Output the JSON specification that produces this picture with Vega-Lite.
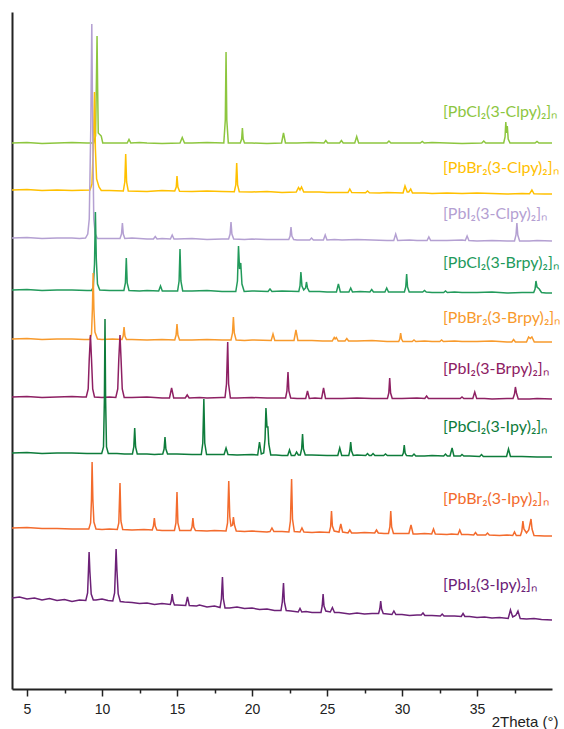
{
"$schema": "https://vega.github.io/schema/vega-lite/v6.json",
"width": 540, "height": 677,
"autosize": {"type": "none"},
"padding": {"left": 12, "top": 12, "right": 12, "bottom": 40},
"background": "white",
"config": {"view": {"stroke": null}, "axis": {"grid": false}},
"datasets": {
"labels": [
{"s":"Cl-Clpy","t":32.73,"i":577,"label":"[PbCl₂(3-Clpy)₂]ₙ"},
{"s":"Br-Clpy","t":32.73,"i":521,"label":"[PbBr₂(3-Clpy)₂]ₙ"},
{"s":"I-Clpy","t":32.73,"i":475,"label":"[PbI₂(3-Clpy)₂]ₙ"},
{"s":"Cl-Brpy","t":32.73,"i":426,"label":"[PbCl₂(3-Brpy)₂]ₙ"},
{"s":"Br-Brpy","t":32.73,"i":371,"label":"[PbBr₂(3-Brpy)₂]ₙ"},
{"s":"I-Brpy","t":32.73,"i":320,"label":"[PbI₂(3-Brpy)₂]ₙ"},
{"s":"Cl-Ipy","t":32.73,"i":262,"label":"[PbCl₂(3-Ipy)₂]ₙ"},
{"s":"Br-Ipy","t":32.73,"i":190,"label":"[PbBr₂(3-Ipy)₂]ₙ"},
{"s":"I-Ipy","t":32.73,"i":104,"label":"[PbI₂(3-Ipy)₂]ₙ"}
],
"xrd": [
{"s":"Cl-Clpy","t":4,"i":546},{"s":"Cl-Clpy","t":5,"i":546.5},{"s":"Cl-Clpy","t":6,"i":545.5},{"s":"Cl-Clpy","t":7,"i":546},{"s":"Cl-Clpy","t":8,"i":546.5},{"s":"Cl-Clpy","t":9,"i":546},{"s":"Cl-Clpy","t":9.45,"i":546},{"s":"Cl-Clpy","t":9.57,"i":553},{"s":"Cl-Clpy","t":9.62,"i":600},{"s":"Cl-Clpy","t":9.67,"i":653},{"s":"Cl-Clpy","t":9.71,"i":600},{"s":"Cl-Clpy","t":9.75,"i":556},{"s":"Cl-Clpy","t":9.95,"i":553},{"s":"Cl-Clpy","t":10.05,"i":546},{"s":"Cl-Clpy","t":10.5,"i":546},{"s":"Cl-Clpy","t":11,"i":546},{"s":"Cl-Clpy","t":11.68,"i":546},{"s":"Cl-Clpy","t":11.8,"i":549.5},{"s":"Cl-Clpy","t":11.92,"i":546},{"s":"Cl-Clpy","t":12.5,"i":546.5},{"s":"Cl-Clpy","t":13,"i":546},{"s":"Cl-Clpy","t":14,"i":545.5},{"s":"Cl-Clpy","t":15.2,"i":546},{"s":"Cl-Clpy","t":15.35,"i":551.5},{"s":"Cl-Clpy","t":15.5,"i":546},{"s":"Cl-Clpy","t":16,"i":546},{"s":"Cl-Clpy","t":17,"i":546.5},{"s":"Cl-Clpy","t":18.12,"i":546},{"s":"Cl-Clpy","t":18.22,"i":569},{"s":"Cl-Clpy","t":18.27,"i":637},{"s":"Cl-Clpy","t":18.32,"i":569},{"s":"Cl-Clpy","t":18.42,"i":546},{"s":"Cl-Clpy","t":19.22,"i":546},{"s":"Cl-Clpy","t":19.31,"i":550},{"s":"Cl-Clpy","t":19.36,"i":561},{"s":"Cl-Clpy","t":19.41,"i":550},{"s":"Cl-Clpy","t":19.5,"i":546},{"s":"Cl-Clpy","t":20,"i":546},{"s":"Cl-Clpy","t":21,"i":545.5},{"s":"Cl-Clpy","t":21.97,"i":546},{"s":"Cl-Clpy","t":22.1,"i":556},{"s":"Cl-Clpy","t":22.23,"i":546},{"s":"Cl-Clpy","t":23,"i":546},{"s":"Cl-Clpy","t":24,"i":546.5},{"s":"Cl-Clpy","t":24.8,"i":546},{"s":"Cl-Clpy","t":24.92,"i":548.5},{"s":"Cl-Clpy","t":25.04,"i":546},{"s":"Cl-Clpy","t":25.84,"i":546},{"s":"Cl-Clpy","t":25.96,"i":548.5},{"s":"Cl-Clpy","t":26.08,"i":546},{"s":"Cl-Clpy","t":26.85,"i":546},{"s":"Cl-Clpy","t":26.98,"i":552.5},{"s":"Cl-Clpy","t":27.11,"i":546},{"s":"Cl-Clpy","t":28,"i":546},{"s":"Cl-Clpy","t":29,"i":546},{"s":"Cl-Clpy","t":29.13,"i":548},{"s":"Cl-Clpy","t":29.26,"i":546},{"s":"Cl-Clpy","t":30,"i":546},{"s":"Cl-Clpy","t":31.22,"i":546},{"s":"Cl-Clpy","t":31.35,"i":547.5},{"s":"Cl-Clpy","t":31.48,"i":546},{"s":"Cl-Clpy","t":32,"i":546.5},{"s":"Cl-Clpy","t":33,"i":546},{"s":"Cl-Clpy","t":34,"i":545.5},{"s":"Cl-Clpy","t":35.32,"i":546},{"s":"Cl-Clpy","t":35.45,"i":548},{"s":"Cl-Clpy","t":35.58,"i":546},{"s":"Cl-Clpy","t":36,"i":546},{"s":"Cl-Clpy","t":36.78,"i":546},{"s":"Cl-Clpy","t":36.87,"i":552},{"s":"Cl-Clpy","t":36.92,"i":567},{"s":"Cl-Clpy","t":36.97,"i":556},{"s":"Cl-Clpy","t":37.02,"i":563},{"s":"Cl-Clpy","t":37.08,"i":550},{"s":"Cl-Clpy","t":37.2,"i":546},{"s":"Cl-Clpy","t":38,"i":546},{"s":"Cl-Clpy","t":38.87,"i":546},{"s":"Cl-Clpy","t":39,"i":547.5},{"s":"Cl-Clpy","t":39.13,"i":546},{"s":"Cl-Clpy","t":40,"i":546},

{"s":"Br-Clpy","t":4,"i":499},{"s":"Br-Clpy","t":5,"i":499.5},{"s":"Br-Clpy","t":6,"i":498.5},{"s":"Br-Clpy","t":7,"i":499},{"s":"Br-Clpy","t":8,"i":498.5},{"s":"Br-Clpy","t":9.2,"i":499},{"s":"Br-Clpy","t":9.33,"i":505},{"s":"Br-Clpy","t":9.42,"i":540},{"s":"Br-Clpy","t":9.5,"i":597},{"s":"Br-Clpy","t":9.56,"i":540},{"s":"Br-Clpy","t":9.64,"i":510},{"s":"Br-Clpy","t":9.8,"i":502},{"s":"Br-Clpy","t":9.95,"i":498.5},{"s":"Br-Clpy","t":10.5,"i":498.5},{"s":"Br-Clpy","t":11.42,"i":498},{"s":"Br-Clpy","t":11.52,"i":507},{"s":"Br-Clpy","t":11.58,"i":535},{"s":"Br-Clpy","t":11.64,"i":507},{"s":"Br-Clpy","t":11.75,"i":498},{"s":"Br-Clpy","t":13,"i":497.5},{"s":"Br-Clpy","t":14,"i":498.5},{"s":"Br-Clpy","t":14.85,"i":498},{"s":"Br-Clpy","t":14.95,"i":502},{"s":"Br-Clpy","t":15,"i":513},{"s":"Br-Clpy","t":15.06,"i":502},{"s":"Br-Clpy","t":15.17,"i":497.8},{"s":"Br-Clpy","t":16,"i":497.5},{"s":"Br-Clpy","t":17,"i":498},{"s":"Br-Clpy","t":18,"i":497.5},{"s":"Br-Clpy","t":18.82,"i":497.3},{"s":"Br-Clpy","t":18.92,"i":504},{"s":"Br-Clpy","t":18.98,"i":526},{"s":"Br-Clpy","t":19.04,"i":504},{"s":"Br-Clpy","t":19.15,"i":497.3},{"s":"Br-Clpy","t":20,"i":497},{"s":"Br-Clpy","t":21,"i":497.5},{"s":"Br-Clpy","t":22,"i":496.5},{"s":"Br-Clpy","t":22.95,"i":497},{"s":"Br-Clpy","t":23.1,"i":501.5},{"s":"Br-Clpy","t":23.2,"i":499},{"s":"Br-Clpy","t":23.3,"i":502},{"s":"Br-Clpy","t":23.45,"i":496.9},{"s":"Br-Clpy","t":24.5,"i":497},{"s":"Br-Clpy","t":25,"i":496.5},{"s":"Br-Clpy","t":26.4,"i":496.5},{"s":"Br-Clpy","t":26.52,"i":500},{"s":"Br-Clpy","t":26.65,"i":496.5},{"s":"Br-Clpy","t":27.57,"i":496.3},{"s":"Br-Clpy","t":27.7,"i":498},{"s":"Br-Clpy","t":27.83,"i":496.3},{"s":"Br-Clpy","t":28.5,"i":496},{"s":"Br-Clpy","t":29,"i":496.5},{"s":"Br-Clpy","t":30.07,"i":496},{"s":"Br-Clpy","t":30.2,"i":503},{"s":"Br-Clpy","t":30.35,"i":497},{"s":"Br-Clpy","t":30.45,"i":497},{"s":"Br-Clpy","t":30.58,"i":500},{"s":"Br-Clpy","t":30.7,"i":496},{"s":"Br-Clpy","t":31.5,"i":496},{"s":"Br-Clpy","t":32,"i":495.5},{"s":"Br-Clpy","t":33,"i":496},{"s":"Br-Clpy","t":34,"i":495.5},{"s":"Br-Clpy","t":35,"i":496},{"s":"Br-Clpy","t":36,"i":495.5},{"s":"Br-Clpy","t":37,"i":495},{"s":"Br-Clpy","t":38,"i":495.5},{"s":"Br-Clpy","t":38.5,"i":495.2},{"s":"Br-Clpy","t":38.66,"i":499},{"s":"Br-Clpy","t":38.8,"i":495.2},{"s":"Br-Clpy","t":39.5,"i":495},{"s":"Br-Clpy","t":40,"i":495},

{"s":"I-Clpy","t":4,"i":451},{"s":"I-Clpy","t":5,"i":451.5},{"s":"I-Clpy","t":6,"i":450.5},{"s":"I-Clpy","t":7,"i":451},{"s":"I-Clpy","t":8,"i":451},{"s":"I-Clpy","t":8.5,"i":450.5},{"s":"I-Clpy","t":8.9,"i":451},{"s":"I-Clpy","t":9.05,"i":455},{"s":"I-Clpy","t":9.15,"i":470},{"s":"I-Clpy","t":9.25,"i":560},{"s":"I-Clpy","t":9.32,"i":665},{"s":"I-Clpy","t":9.38,"i":560},{"s":"I-Clpy","t":9.45,"i":470},{"s":"I-Clpy","t":9.55,"i":455},{"s":"I-Clpy","t":9.7,"i":450.5},{"s":"I-Clpy","t":10,"i":450.5},{"s":"I-Clpy","t":11,"i":450.5},{"s":"I-Clpy","t":11.2,"i":450.5},{"s":"I-Clpy","t":11.3,"i":455},{"s":"I-Clpy","t":11.36,"i":466},{"s":"I-Clpy","t":11.42,"i":455},{"s":"I-Clpy","t":11.52,"i":450.5},{"s":"I-Clpy","t":12,"i":451},{"s":"I-Clpy","t":13,"i":450},{"s":"I-Clpy","t":13.43,"i":450},{"s":"I-Clpy","t":13.55,"i":452.5},{"s":"I-Clpy","t":13.67,"i":450},{"s":"I-Clpy","t":14,"i":450.5},{"s":"I-Clpy","t":14.56,"i":450},{"s":"I-Clpy","t":14.68,"i":454},{"s":"I-Clpy","t":14.8,"i":450},{"s":"I-Clpy","t":15,"i":450},{"s":"I-Clpy","t":16,"i":450.5},{"s":"I-Clpy","t":17,"i":449.5},{"s":"I-Clpy","t":18,"i":450},{"s":"I-Clpy","t":18.44,"i":450},{"s":"I-Clpy","t":18.54,"i":455},{"s":"I-Clpy","t":18.6,"i":467},{"s":"I-Clpy","t":18.66,"i":455},{"s":"I-Clpy","t":18.78,"i":450},{"s":"I-Clpy","t":19.5,"i":449.5},{"s":"I-Clpy","t":20,"i":450},{"s":"I-Clpy","t":21,"i":449.5},{"s":"I-Clpy","t":22,"i":449.5},{"s":"I-Clpy","t":22.45,"i":449.5},{"s":"I-Clpy","t":22.54,"i":453},{"s":"I-Clpy","t":22.6,"i":462},{"s":"I-Clpy","t":22.66,"i":453},{"s":"I-Clpy","t":22.78,"i":449.5},{"s":"I-Clpy","t":23,"i":449},{"s":"I-Clpy","t":23.85,"i":449},{"s":"I-Clpy","t":23.97,"i":451},{"s":"I-Clpy","t":24.09,"i":449},{"s":"I-Clpy","t":24.76,"i":449},{"s":"I-Clpy","t":24.88,"i":454},{"s":"I-Clpy","t":25,"i":449},{"s":"I-Clpy","t":25.5,"i":449.5},{"s":"I-Clpy","t":26,"i":449},{"s":"I-Clpy","t":27,"i":449.5},{"s":"I-Clpy","t":28,"i":449},{"s":"I-Clpy","t":29,"i":448.5},{"s":"I-Clpy","t":29.45,"i":448.5},{"s":"I-Clpy","t":29.58,"i":455},{"s":"I-Clpy","t":29.71,"i":448.5},{"s":"I-Clpy","t":30.5,"i":449},{"s":"I-Clpy","t":31,"i":448.5},{"s":"I-Clpy","t":31.67,"i":448.5},{"s":"I-Clpy","t":31.79,"i":452},{"s":"I-Clpy","t":31.91,"i":448.5},{"s":"I-Clpy","t":33,"i":448.5},{"s":"I-Clpy","t":34,"i":449},{"s":"I-Clpy","t":34.22,"i":448.5},{"s":"I-Clpy","t":34.34,"i":453},{"s":"I-Clpy","t":34.46,"i":448.5},{"s":"I-Clpy","t":35,"i":448},{"s":"I-Clpy","t":36,"i":448.5},{"s":"I-Clpy","t":37,"i":448},{"s":"I-Clpy","t":37.5,"i":448},{"s":"I-Clpy","t":37.6,"i":454},{"s":"I-Clpy","t":37.66,"i":466},{"s":"I-Clpy","t":37.72,"i":454},{"s":"I-Clpy","t":37.84,"i":448},{"s":"I-Clpy","t":38.5,"i":448},{"s":"I-Clpy","t":39,"i":448.5},{"s":"I-Clpy","t":40,"i":448},

{"s":"Cl-Brpy","t":4,"i":399},{"s":"Cl-Brpy","t":5,"i":399.5},{"s":"Cl-Brpy","t":6,"i":398.5},{"s":"Cl-Brpy","t":7,"i":399},{"s":"Cl-Brpy","t":8,"i":399},{"s":"Cl-Brpy","t":9,"i":398.5},{"s":"Cl-Brpy","t":9.3,"i":398.5},{"s":"Cl-Brpy","t":9.42,"i":402},{"s":"Cl-Brpy","t":9.5,"i":425},{"s":"Cl-Brpy","t":9.56,"i":477},{"s":"Cl-Brpy","t":9.62,"i":430},{"s":"Cl-Brpy","t":9.7,"i":405},{"s":"Cl-Brpy","t":9.85,"i":399},{"s":"Cl-Brpy","t":10.5,"i":398.5},{"s":"Cl-Brpy","t":11,"i":398.5},{"s":"Cl-Brpy","t":11.46,"i":398.5},{"s":"Cl-Brpy","t":11.56,"i":406},{"s":"Cl-Brpy","t":11.62,"i":431},{"s":"Cl-Brpy","t":11.68,"i":406},{"s":"Cl-Brpy","t":11.8,"i":398.5},{"s":"Cl-Brpy","t":12.5,"i":398},{"s":"Cl-Brpy","t":13,"i":398.5},{"s":"Cl-Brpy","t":13.78,"i":398},{"s":"Cl-Brpy","t":13.9,"i":403},{"s":"Cl-Brpy","t":14.02,"i":398},{"s":"Cl-Brpy","t":14.5,"i":398},{"s":"Cl-Brpy","t":15.04,"i":398},{"s":"Cl-Brpy","t":15.14,"i":408},{"s":"Cl-Brpy","t":15.2,"i":440},{"s":"Cl-Brpy","t":15.26,"i":408},{"s":"Cl-Brpy","t":15.38,"i":398},{"s":"Cl-Brpy","t":16,"i":398},{"s":"Cl-Brpy","t":17,"i":398.5},{"s":"Cl-Brpy","t":18,"i":397.5},{"s":"Cl-Brpy","t":18.92,"i":397.5},{"s":"Cl-Brpy","t":19.03,"i":408},{"s":"Cl-Brpy","t":19.1,"i":443},{"s":"Cl-Brpy","t":19.17,"i":420},{"s":"Cl-Brpy","t":19.25,"i":426},{"s":"Cl-Brpy","t":19.33,"i":405},{"s":"Cl-Brpy","t":19.48,"i":397.5},{"s":"Cl-Brpy","t":20,"i":398},{"s":"Cl-Brpy","t":21.07,"i":397.5},{"s":"Cl-Brpy","t":21.2,"i":400},{"s":"Cl-Brpy","t":21.33,"i":397.5},{"s":"Cl-Brpy","t":22,"i":398},{"s":"Cl-Brpy","t":23.12,"i":397.5},{"s":"Cl-Brpy","t":23.2,"i":403},{"s":"Cl-Brpy","t":23.26,"i":417},{"s":"Cl-Brpy","t":23.33,"i":403},{"s":"Cl-Brpy","t":23.45,"i":399},{"s":"Cl-Brpy","t":23.57,"i":401},{"s":"Cl-Brpy","t":23.63,"i":407},{"s":"Cl-Brpy","t":23.7,"i":401},{"s":"Cl-Brpy","t":23.82,"i":397.5},{"s":"Cl-Brpy","t":24.5,"i":397.5},{"s":"Cl-Brpy","t":25,"i":397},{"s":"Cl-Brpy","t":25.63,"i":397},{"s":"Cl-Brpy","t":25.76,"i":405},{"s":"Cl-Brpy","t":25.89,"i":397},{"s":"Cl-Brpy","t":26.46,"i":397},{"s":"Cl-Brpy","t":26.58,"i":401},{"s":"Cl-Brpy","t":26.7,"i":397},{"s":"Cl-Brpy","t":27.2,"i":397.5},{"s":"Cl-Brpy","t":27.86,"i":397},{"s":"Cl-Brpy","t":27.98,"i":399.5},{"s":"Cl-Brpy","t":28.1,"i":397},{"s":"Cl-Brpy","t":28.5,"i":397},{"s":"Cl-Brpy","t":28.86,"i":397},{"s":"Cl-Brpy","t":28.98,"i":401},{"s":"Cl-Brpy","t":29.1,"i":397},{"s":"Cl-Brpy","t":29.5,"i":397},{"s":"Cl-Brpy","t":30.16,"i":397},{"s":"Cl-Brpy","t":30.25,"i":402},{"s":"Cl-Brpy","t":30.31,"i":415},{"s":"Cl-Brpy","t":30.37,"i":402},{"s":"Cl-Brpy","t":30.48,"i":397},{"s":"Cl-Brpy","t":31,"i":397},{"s":"Cl-Brpy","t":31.38,"i":397},{"s":"Cl-Brpy","t":31.5,"i":398.5},{"s":"Cl-Brpy","t":31.62,"i":397},{"s":"Cl-Brpy","t":32,"i":396.5},{"s":"Cl-Brpy","t":32.78,"i":396.5},{"s":"Cl-Brpy","t":32.9,"i":398},{"s":"Cl-Brpy","t":33.02,"i":396.5},{"s":"Cl-Brpy","t":33.5,"i":397},{"s":"Cl-Brpy","t":34,"i":396.5},{"s":"Cl-Brpy","t":35,"i":396.5},{"s":"Cl-Brpy","t":36,"i":397},{"s":"Cl-Brpy","t":37,"i":396},{"s":"Cl-Brpy","t":38,"i":396.5},{"s":"Cl-Brpy","t":38.78,"i":396.5},{"s":"Cl-Brpy","t":38.87,"i":400},{"s":"Cl-Brpy","t":38.93,"i":408},{"s":"Cl-Brpy","t":39,"i":402},{"s":"Cl-Brpy","t":39.15,"i":400},{"s":"Cl-Brpy","t":39.3,"i":396.5},{"s":"Cl-Brpy","t":39.6,"i":396},{"s":"Cl-Brpy","t":40,"i":396},

{"s":"Br-Brpy","t":4,"i":350},{"s":"Br-Brpy","t":5,"i":350.5},{"s":"Br-Brpy","t":6,"i":349.5},{"s":"Br-Brpy","t":7,"i":350},{"s":"Br-Brpy","t":8,"i":350},{"s":"Br-Brpy","t":8.8,"i":349.5},{"s":"Br-Brpy","t":9.18,"i":349.5},{"s":"Br-Brpy","t":9.3,"i":355},{"s":"Br-Brpy","t":9.36,"i":380},{"s":"Br-Brpy","t":9.41,"i":416},{"s":"Br-Brpy","t":9.46,"i":380},{"s":"Br-Brpy","t":9.53,"i":357},{"s":"Br-Brpy","t":9.7,"i":350},{"s":"Br-Brpy","t":10,"i":349.5},{"s":"Br-Brpy","t":10.7,"i":350},{"s":"Br-Brpy","t":11.33,"i":349.5},{"s":"Br-Brpy","t":11.41,"i":353},{"s":"Br-Brpy","t":11.47,"i":362},{"s":"Br-Brpy","t":11.53,"i":353},{"s":"Br-Brpy","t":11.63,"i":349.5},{"s":"Br-Brpy","t":12,"i":349.5},{"s":"Br-Brpy","t":13,"i":349},{"s":"Br-Brpy","t":14,"i":349.5},{"s":"Br-Brpy","t":14.85,"i":349},{"s":"Br-Brpy","t":14.94,"i":354},{"s":"Br-Brpy","t":15,"i":365},{"s":"Br-Brpy","t":15.06,"i":354},{"s":"Br-Brpy","t":15.17,"i":349},{"s":"Br-Brpy","t":16,"i":349},{"s":"Br-Brpy","t":17,"i":349.5},{"s":"Br-Brpy","t":18,"i":349},{"s":"Br-Brpy","t":18.6,"i":349},{"s":"Br-Brpy","t":18.7,"i":356},{"s":"Br-Brpy","t":18.76,"i":372},{"s":"Br-Brpy","t":18.82,"i":356},{"s":"Br-Brpy","t":18.94,"i":349},{"s":"Br-Brpy","t":19.5,"i":348.5},{"s":"Br-Brpy","t":20,"i":349},{"s":"Br-Brpy","t":21.28,"i":348.5},{"s":"Br-Brpy","t":21.4,"i":355},{"s":"Br-Brpy","t":21.52,"i":348.5},{"s":"Br-Brpy","t":22,"i":348.5},{"s":"Br-Brpy","t":22.8,"i":348.5},{"s":"Br-Brpy","t":22.93,"i":359},{"s":"Br-Brpy","t":23.06,"i":348.5},{"s":"Br-Brpy","t":24,"i":348.5},{"s":"Br-Brpy","t":24.7,"i":348},{"s":"Br-Brpy","t":25.35,"i":348},{"s":"Br-Brpy","t":25.48,"i":351.5},{"s":"Br-Brpy","t":25.54,"i":350},{"s":"Br-Brpy","t":25.62,"i":351.5},{"s":"Br-Brpy","t":25.75,"i":348},{"s":"Br-Brpy","t":26.2,"i":348},{"s":"Br-Brpy","t":26.32,"i":350.5},{"s":"Br-Brpy","t":26.44,"i":348},{"s":"Br-Brpy","t":27,"i":348},{"s":"Br-Brpy","t":28,"i":348.5},{"s":"Br-Brpy","t":29,"i":347.5},{"s":"Br-Brpy","t":29.78,"i":347.5},{"s":"Br-Brpy","t":29.85,"i":350},{"s":"Br-Brpy","t":29.91,"i":356},{"s":"Br-Brpy","t":29.97,"i":350},{"s":"Br-Brpy","t":30.06,"i":347.5},{"s":"Br-Brpy","t":30.68,"i":347.5},{"s":"Br-Brpy","t":30.8,"i":349},{"s":"Br-Brpy","t":30.92,"i":347.5},{"s":"Br-Brpy","t":31.5,"i":348},{"s":"Br-Brpy","t":32,"i":347.5},{"s":"Br-Brpy","t":32.52,"i":347.5},{"s":"Br-Brpy","t":32.64,"i":349},{"s":"Br-Brpy","t":32.76,"i":347.5},{"s":"Br-Brpy","t":33.5,"i":348},{"s":"Br-Brpy","t":34,"i":347.5},{"s":"Br-Brpy","t":35,"i":347.5},{"s":"Br-Brpy","t":36,"i":348},{"s":"Br-Brpy","t":37,"i":347},{"s":"Br-Brpy","t":37.32,"i":347},{"s":"Br-Brpy","t":37.44,"i":349.5},{"s":"Br-Brpy","t":37.56,"i":347},{"s":"Br-Brpy","t":38.3,"i":347},{"s":"Br-Brpy","t":38.44,"i":352},{"s":"Br-Brpy","t":38.55,"i":350.5},{"s":"Br-Brpy","t":38.66,"i":352},{"s":"Br-Brpy","t":38.82,"i":347},{"s":"Br-Brpy","t":39.5,"i":347},{"s":"Br-Brpy","t":40,"i":347},

{"s":"I-Brpy","t":4,"i":292},{"s":"I-Brpy","t":5,"i":292.5},{"s":"I-Brpy","t":6,"i":291.5},{"s":"I-Brpy","t":7,"i":292},{"s":"I-Brpy","t":8,"i":292.5},{"s":"I-Brpy","t":8.7,"i":292},{"s":"I-Brpy","t":8.95,"i":292},{"s":"I-Brpy","t":9.08,"i":300},{"s":"I-Brpy","t":9.15,"i":330},{"s":"I-Brpy","t":9.23,"i":354},{"s":"I-Brpy","t":9.3,"i":330},{"s":"I-Brpy","t":9.38,"i":300},{"s":"I-Brpy","t":9.5,"i":292},{"s":"I-Brpy","t":10,"i":291.5},{"s":"I-Brpy","t":10.5,"i":292},{"s":"I-Brpy","t":10.92,"i":291.5},{"s":"I-Brpy","t":11.05,"i":300},{"s":"I-Brpy","t":11.12,"i":330},{"s":"I-Brpy","t":11.2,"i":354},{"s":"I-Brpy","t":11.27,"i":330},{"s":"I-Brpy","t":11.35,"i":300},{"s":"I-Brpy","t":11.48,"i":291.5},{"s":"I-Brpy","t":12,"i":291.5},{"s":"I-Brpy","t":13,"i":292},{"s":"I-Brpy","t":14,"i":291},{"s":"I-Brpy","t":14.5,"i":291},{"s":"I-Brpy","t":14.64,"i":301},{"s":"I-Brpy","t":14.78,"i":291},{"s":"I-Brpy","t":15.55,"i":291},{"s":"I-Brpy","t":15.68,"i":294},{"s":"I-Brpy","t":15.81,"i":291},{"s":"I-Brpy","t":16.5,"i":291.5},{"s":"I-Brpy","t":17,"i":291},{"s":"I-Brpy","t":18,"i":291.5},{"s":"I-Brpy","t":18.2,"i":291.5},{"s":"I-Brpy","t":18.3,"i":305},{"s":"I-Brpy","t":18.38,"i":347},{"s":"I-Brpy","t":18.44,"i":305},{"s":"I-Brpy","t":18.56,"i":291},{"s":"I-Brpy","t":19,"i":291},{"s":"I-Brpy","t":20,"i":291.5},{"s":"I-Brpy","t":21,"i":291},{"s":"I-Brpy","t":22.24,"i":291},{"s":"I-Brpy","t":22.33,"i":298},{"s":"I-Brpy","t":22.4,"i":317},{"s":"I-Brpy","t":22.46,"i":298},{"s":"I-Brpy","t":22.58,"i":291},{"s":"I-Brpy","t":23,"i":290.5},{"s":"I-Brpy","t":23.58,"i":290.5},{"s":"I-Brpy","t":23.7,"i":298},{"s":"I-Brpy","t":23.82,"i":290.5},{"s":"I-Brpy","t":24.2,"i":291},{"s":"I-Brpy","t":24.64,"i":290.5},{"s":"I-Brpy","t":24.77,"i":301},{"s":"I-Brpy","t":24.9,"i":290.5},{"s":"I-Brpy","t":26,"i":290.5},{"s":"I-Brpy","t":27,"i":291},{"s":"I-Brpy","t":28,"i":290.5},{"s":"I-Brpy","t":29.03,"i":290.5},{"s":"I-Brpy","t":29.12,"i":296},{"s":"I-Brpy","t":29.18,"i":311},{"s":"I-Brpy","t":29.24,"i":296},{"s":"I-Brpy","t":29.35,"i":290.5},{"s":"I-Brpy","t":30,"i":290.5},{"s":"I-Brpy","t":31,"i":291},{"s":"I-Brpy","t":31.52,"i":290.5},{"s":"I-Brpy","t":31.64,"i":293},{"s":"I-Brpy","t":31.76,"i":290.5},{"s":"I-Brpy","t":32.5,"i":290.5},{"s":"I-Brpy","t":33,"i":290.5},{"s":"I-Brpy","t":33.88,"i":290.5},{"s":"I-Brpy","t":34,"i":292},{"s":"I-Brpy","t":34.12,"i":290.5},{"s":"I-Brpy","t":34.72,"i":290.5},{"s":"I-Brpy","t":34.85,"i":297},{"s":"I-Brpy","t":34.98,"i":290.5},{"s":"I-Brpy","t":35.5,"i":290.5},{"s":"I-Brpy","t":36,"i":290},{"s":"I-Brpy","t":37,"i":290.5},{"s":"I-Brpy","t":37.4,"i":290.5},{"s":"I-Brpy","t":37.5,"i":295},{"s":"I-Brpy","t":37.56,"i":302},{"s":"I-Brpy","t":37.63,"i":296},{"s":"I-Brpy","t":37.75,"i":290},{"s":"I-Brpy","t":38.5,"i":290},{"s":"I-Brpy","t":39,"i":290.5},{"s":"I-Brpy","t":40,"i":290},

{"s":"Cl-Ipy","t":4,"i":236},{"s":"Cl-Ipy","t":5,"i":236.5},{"s":"Cl-Ipy","t":6,"i":235.5},{"s":"Cl-Ipy","t":7,"i":236},{"s":"Cl-Ipy","t":8,"i":236},{"s":"Cl-Ipy","t":9,"i":235.5},{"s":"Cl-Ipy","t":9.7,"i":235.5},{"s":"Cl-Ipy","t":9.98,"i":235.5},{"s":"Cl-Ipy","t":10.1,"i":242},{"s":"Cl-Ipy","t":10.16,"i":290},{"s":"Cl-Ipy","t":10.2,"i":370},{"s":"Cl-Ipy","t":10.24,"i":290},{"s":"Cl-Ipy","t":10.3,"i":242},{"s":"Cl-Ipy","t":10.42,"i":235.5},{"s":"Cl-Ipy","t":11,"i":235.5},{"s":"Cl-Ipy","t":11.5,"i":235},{"s":"Cl-Ipy","t":12.03,"i":235},{"s":"Cl-Ipy","t":12.12,"i":242},{"s":"Cl-Ipy","t":12.18,"i":261},{"s":"Cl-Ipy","t":12.24,"i":242},{"s":"Cl-Ipy","t":12.35,"i":235},{"s":"Cl-Ipy","t":13,"i":235},{"s":"Cl-Ipy","t":13.5,"i":234.5},{"s":"Cl-Ipy","t":14.05,"i":235},{"s":"Cl-Ipy","t":14.14,"i":240},{"s":"Cl-Ipy","t":14.2,"i":252},{"s":"Cl-Ipy","t":14.26,"i":240},{"s":"Cl-Ipy","t":14.37,"i":235},{"s":"Cl-Ipy","t":15,"i":235},{"s":"Cl-Ipy","t":16,"i":234.5},{"s":"Cl-Ipy","t":16.62,"i":234.5},{"s":"Cl-Ipy","t":16.72,"i":246},{"s":"Cl-Ipy","t":16.79,"i":290},{"s":"Cl-Ipy","t":16.85,"i":246},{"s":"Cl-Ipy","t":16.97,"i":234.5},{"s":"Cl-Ipy","t":17.5,"i":234.5},{"s":"Cl-Ipy","t":18.14,"i":234.5},{"s":"Cl-Ipy","t":18.27,"i":241},{"s":"Cl-Ipy","t":18.4,"i":234.5},{"s":"Cl-Ipy","t":19,"i":234},{"s":"Cl-Ipy","t":20,"i":234.5},{"s":"Cl-Ipy","t":20.38,"i":234},{"s":"Cl-Ipy","t":20.5,"i":247},{"s":"Cl-Ipy","t":20.62,"i":235},{"s":"Cl-Ipy","t":20.78,"i":236},{"s":"Cl-Ipy","t":20.87,"i":250},{"s":"Cl-Ipy","t":20.93,"i":281},{"s":"Cl-Ipy","t":21,"i":262},{"s":"Cl-Ipy","t":21.06,"i":262},{"s":"Cl-Ipy","t":21.12,"i":245},{"s":"Cl-Ipy","t":21.25,"i":234},{"s":"Cl-Ipy","t":21.6,"i":234},{"s":"Cl-Ipy","t":22,"i":233.5},{"s":"Cl-Ipy","t":22.38,"i":233.5},{"s":"Cl-Ipy","t":22.5,"i":239},{"s":"Cl-Ipy","t":22.62,"i":233.5},{"s":"Cl-Ipy","t":22.85,"i":233.5},{"s":"Cl-Ipy","t":22.97,"i":237},{"s":"Cl-Ipy","t":23.09,"i":234},{"s":"Cl-Ipy","t":23.22,"i":234},{"s":"Cl-Ipy","t":23.31,"i":240},{"s":"Cl-Ipy","t":23.37,"i":255},{"s":"Cl-Ipy","t":23.43,"i":240},{"s":"Cl-Ipy","t":23.55,"i":234},{"s":"Cl-Ipy","t":24,"i":234},{"s":"Cl-Ipy","t":25,"i":233.5},{"s":"Cl-Ipy","t":25.72,"i":233.5},{"s":"Cl-Ipy","t":25.85,"i":241},{"s":"Cl-Ipy","t":25.98,"i":233.5},{"s":"Cl-Ipy","t":26.45,"i":233.5},{"s":"Cl-Ipy","t":26.52,"i":238},{"s":"Cl-Ipy","t":26.58,"i":247},{"s":"Cl-Ipy","t":26.64,"i":238},{"s":"Cl-Ipy","t":26.75,"i":233.5},{"s":"Cl-Ipy","t":27,"i":234},{"s":"Cl-Ipy","t":27.58,"i":233.5},{"s":"Cl-Ipy","t":27.7,"i":235.5},{"s":"Cl-Ipy","t":27.82,"i":233.5},{"s":"Cl-Ipy","t":27.95,"i":233.5},{"s":"Cl-Ipy","t":28.07,"i":235.5},{"s":"Cl-Ipy","t":28.19,"i":233.5},{"s":"Cl-Ipy","t":28.78,"i":233.5},{"s":"Cl-Ipy","t":28.9,"i":235},{"s":"Cl-Ipy","t":29.02,"i":233.5},{"s":"Cl-Ipy","t":29.5,"i":233.5},{"s":"Cl-Ipy","t":30.02,"i":233.5},{"s":"Cl-Ipy","t":30.09,"i":236},{"s":"Cl-Ipy","t":30.15,"i":244},{"s":"Cl-Ipy","t":30.21,"i":236},{"s":"Cl-Ipy","t":30.3,"i":233.5},{"s":"Cl-Ipy","t":30.68,"i":233},{"s":"Cl-Ipy","t":30.8,"i":235},{"s":"Cl-Ipy","t":30.92,"i":233},{"s":"Cl-Ipy","t":31.5,"i":233},{"s":"Cl-Ipy","t":32,"i":233.5},{"s":"Cl-Ipy","t":32.78,"i":233},{"s":"Cl-Ipy","t":32.9,"i":235},{"s":"Cl-Ipy","t":33.02,"i":233},{"s":"Cl-Ipy","t":33.2,"i":233},{"s":"Cl-Ipy","t":33.34,"i":241},{"s":"Cl-Ipy","t":33.46,"i":233},{"s":"Cl-Ipy","t":33.9,"i":233},{"s":"Cl-Ipy","t":34,"i":234.5},{"s":"Cl-Ipy","t":34.12,"i":233},{"s":"Cl-Ipy","t":34.5,"i":233},{"s":"Cl-Ipy","t":35.18,"i":232.5},{"s":"Cl-Ipy","t":35.3,"i":234.5},{"s":"Cl-Ipy","t":35.42,"i":232.5},{"s":"Cl-Ipy","t":36,"i":232.5},{"s":"Cl-Ipy","t":36.97,"i":232.5},{"s":"Cl-Ipy","t":37.1,"i":240},{"s":"Cl-Ipy","t":37.23,"i":232.5},{"s":"Cl-Ipy","t":38,"i":232.5},{"s":"Cl-Ipy","t":39,"i":232},{"s":"Cl-Ipy","t":40,"i":232},

{"s":"Br-Ipy","t":4,"i":161},{"s":"Br-Ipy","t":5,"i":161.5},{"s":"Br-Ipy","t":6,"i":160.5},{"s":"Br-Ipy","t":7,"i":160.5},{"s":"Br-Ipy","t":8,"i":160},{"s":"Br-Ipy","t":9.12,"i":160},{"s":"Br-Ipy","t":9.24,"i":166},{"s":"Br-Ipy","t":9.3,"i":190},{"s":"Br-Ipy","t":9.34,"i":227},{"s":"Br-Ipy","t":9.39,"i":190},{"s":"Br-Ipy","t":9.46,"i":167},{"s":"Br-Ipy","t":9.6,"i":160},{"s":"Br-Ipy","t":10,"i":159.5},{"s":"Br-Ipy","t":10.5,"i":160},{"s":"Br-Ipy","t":11.02,"i":159.5},{"s":"Br-Ipy","t":11.12,"i":166},{"s":"Br-Ipy","t":11.2,"i":206},{"s":"Br-Ipy","t":11.26,"i":168},{"s":"Br-Ipy","t":11.38,"i":159.5},{"s":"Br-Ipy","t":12,"i":159},{"s":"Br-Ipy","t":12.8,"i":159.5},{"s":"Br-Ipy","t":13.35,"i":159},{"s":"Br-Ipy","t":13.43,"i":163},{"s":"Br-Ipy","t":13.49,"i":171},{"s":"Br-Ipy","t":13.55,"i":163},{"s":"Br-Ipy","t":13.66,"i":159},{"s":"Br-Ipy","t":14,"i":158.5},{"s":"Br-Ipy","t":14.83,"i":158.5},{"s":"Br-Ipy","t":14.93,"i":166},{"s":"Br-Ipy","t":15,"i":197},{"s":"Br-Ipy","t":15.06,"i":166},{"s":"Br-Ipy","t":15.18,"i":158.5},{"s":"Br-Ipy","t":15.5,"i":158.5},{"s":"Br-Ipy","t":15.92,"i":158.5},{"s":"Br-Ipy","t":16,"i":162},{"s":"Br-Ipy","t":16.06,"i":171},{"s":"Br-Ipy","t":16.12,"i":162},{"s":"Br-Ipy","t":16.23,"i":158.5},{"s":"Br-Ipy","t":17,"i":158},{"s":"Br-Ipy","t":17.5,"i":158.5},{"s":"Br-Ipy","t":18.27,"i":158},{"s":"Br-Ipy","t":18.37,"i":166},{"s":"Br-Ipy","t":18.45,"i":208},{"s":"Br-Ipy","t":18.52,"i":172},{"s":"Br-Ipy","t":18.6,"i":163},{"s":"Br-Ipy","t":18.7,"i":164},{"s":"Br-Ipy","t":18.76,"i":172},{"s":"Br-Ipy","t":18.83,"i":164},{"s":"Br-Ipy","t":18.95,"i":158},{"s":"Br-Ipy","t":19.5,"i":157.5},{"s":"Br-Ipy","t":20,"i":158},{"s":"Br-Ipy","t":21,"i":157},{"s":"Br-Ipy","t":21.2,"i":157.5},{"s":"Br-Ipy","t":21.33,"i":161},{"s":"Br-Ipy","t":21.46,"i":157.5},{"s":"Br-Ipy","t":22,"i":157.5},{"s":"Br-Ipy","t":22.46,"i":157},{"s":"Br-Ipy","t":22.56,"i":168},{"s":"Br-Ipy","t":22.64,"i":210},{"s":"Br-Ipy","t":22.7,"i":170},{"s":"Br-Ipy","t":22.82,"i":157.5},{"s":"Br-Ipy","t":23.2,"i":157},{"s":"Br-Ipy","t":23.33,"i":161},{"s":"Br-Ipy","t":23.46,"i":157},{"s":"Br-Ipy","t":24,"i":156.5},{"s":"Br-Ipy","t":24.5,"i":157},{"s":"Br-Ipy","t":25.15,"i":156.5},{"s":"Br-Ipy","t":25.24,"i":162},{"s":"Br-Ipy","t":25.3,"i":178},{"s":"Br-Ipy","t":25.36,"i":163},{"s":"Br-Ipy","t":25.48,"i":158},{"s":"Br-Ipy","t":25.8,"i":157},{"s":"Br-Ipy","t":25.92,"i":165},{"s":"Br-Ipy","t":26.04,"i":157},{"s":"Br-Ipy","t":26.4,"i":156},{"s":"Br-Ipy","t":26.52,"i":159},{"s":"Br-Ipy","t":26.64,"i":156},{"s":"Br-Ipy","t":27,"i":156},{"s":"Br-Ipy","t":27.5,"i":156.5},{"s":"Br-Ipy","t":28.18,"i":156},{"s":"Br-Ipy","t":28.3,"i":159},{"s":"Br-Ipy","t":28.42,"i":156},{"s":"Br-Ipy","t":28.8,"i":155.5},{"s":"Br-Ipy","t":29.1,"i":155.5},{"s":"Br-Ipy","t":29.19,"i":162},{"s":"Br-Ipy","t":29.25,"i":178},{"s":"Br-Ipy","t":29.31,"i":162},{"s":"Br-Ipy","t":29.43,"i":155.5},{"s":"Br-Ipy","t":30,"i":155.5},{"s":"Br-Ipy","t":30.46,"i":155.5},{"s":"Br-Ipy","t":30.6,"i":164},{"s":"Br-Ipy","t":30.74,"i":155},{"s":"Br-Ipy","t":31,"i":155},{"s":"Br-Ipy","t":31.5,"i":155.5},{"s":"Br-Ipy","t":31.98,"i":155},{"s":"Br-Ipy","t":32.1,"i":160},{"s":"Br-Ipy","t":32.22,"i":155},{"s":"Br-Ipy","t":33,"i":154.5},{"s":"Br-Ipy","t":33.3,"i":155},{"s":"Br-Ipy","t":33.73,"i":154.5},{"s":"Br-Ipy","t":33.85,"i":159},{"s":"Br-Ipy","t":33.97,"i":154.5},{"s":"Br-Ipy","t":34.4,"i":154.5},{"s":"Br-Ipy","t":34.78,"i":154},{"s":"Br-Ipy","t":34.9,"i":156.5},{"s":"Br-Ipy","t":35.02,"i":154},{"s":"Br-Ipy","t":35.3,"i":154},{"s":"Br-Ipy","t":35.58,"i":154},{"s":"Br-Ipy","t":35.7,"i":156},{"s":"Br-Ipy","t":35.82,"i":154},{"s":"Br-Ipy","t":36.5,"i":153.5},{"s":"Br-Ipy","t":37,"i":154},{"s":"Br-Ipy","t":37.38,"i":153.5},{"s":"Br-Ipy","t":37.5,"i":157},{"s":"Br-Ipy","t":37.62,"i":153.5},{"s":"Br-Ipy","t":37.9,"i":153.5},{"s":"Br-Ipy","t":37.99,"i":158},{"s":"Br-Ipy","t":38.06,"i":168},{"s":"Br-Ipy","t":38.13,"i":160},{"s":"Br-Ipy","t":38.3,"i":156},{"s":"Br-Ipy","t":38.45,"i":159},{"s":"Br-Ipy","t":38.6,"i":170},{"s":"Br-Ipy","t":38.67,"i":160},{"s":"Br-Ipy","t":38.8,"i":153.5},{"s":"Br-Ipy","t":39.5,"i":153},{"s":"Br-Ipy","t":40,"i":153},

{"s":"I-Ipy","t":4,"i":91},{"s":"I-Ipy","t":4.5,"i":92},{"s":"I-Ipy","t":5,"i":90},{"s":"I-Ipy","t":5.5,"i":91},{"s":"I-Ipy","t":6,"i":89},{"s":"I-Ipy","t":6.5,"i":90.5},{"s":"I-Ipy","t":7,"i":88.5},{"s":"I-Ipy","t":7.5,"i":89.5},{"s":"I-Ipy","t":8,"i":87.5},{"s":"I-Ipy","t":8.5,"i":89},{"s":"I-Ipy","t":8.92,"i":88.5},{"s":"I-Ipy","t":9.04,"i":96},{"s":"I-Ipy","t":9.1,"i":120},{"s":"I-Ipy","t":9.14,"i":137},{"s":"I-Ipy","t":9.19,"i":118},{"s":"I-Ipy","t":9.28,"i":95},{"s":"I-Ipy","t":9.42,"i":89},{"s":"I-Ipy","t":9.6,"i":89},{"s":"I-Ipy","t":10,"i":90},{"s":"I-Ipy","t":10.4,"i":88.5},{"s":"I-Ipy","t":10.72,"i":88},{"s":"I-Ipy","t":10.84,"i":96},{"s":"I-Ipy","t":10.9,"i":122},{"s":"I-Ipy","t":10.94,"i":140},{"s":"I-Ipy","t":10.99,"i":120},{"s":"I-Ipy","t":11.08,"i":95},{"s":"I-Ipy","t":11.22,"i":87.5},{"s":"I-Ipy","t":11.5,"i":87},{"s":"I-Ipy","t":12,"i":86.5},{"s":"I-Ipy","t":12.5,"i":85.5},{"s":"I-Ipy","t":13,"i":86},{"s":"I-Ipy","t":13.5,"i":84.5},{"s":"I-Ipy","t":14,"i":85.5},{"s":"I-Ipy","t":14.55,"i":84.5},{"s":"I-Ipy","t":14.62,"i":88},{"s":"I-Ipy","t":14.68,"i":95},{"s":"I-Ipy","t":14.74,"i":88},{"s":"I-Ipy","t":14.83,"i":84},{"s":"I-Ipy","t":15,"i":84},{"s":"I-Ipy","t":15.58,"i":83.5},{"s":"I-Ipy","t":15.7,"i":92},{"s":"I-Ipy","t":15.82,"i":83.5},{"s":"I-Ipy","t":16.3,"i":83},{"s":"I-Ipy","t":16.5,"i":84},{"s":"I-Ipy","t":17,"i":82},{"s":"I-Ipy","t":17.5,"i":83},{"s":"I-Ipy","t":17.87,"i":81.5},{"s":"I-Ipy","t":17.96,"i":90},{"s":"I-Ipy","t":18.03,"i":112},{"s":"I-Ipy","t":18.09,"i":90},{"s":"I-Ipy","t":18.2,"i":81},{"s":"I-Ipy","t":18.5,"i":81},{"s":"I-Ipy","t":19,"i":82},{"s":"I-Ipy","t":19.5,"i":80.5},{"s":"I-Ipy","t":20,"i":81},{"s":"I-Ipy","t":20.5,"i":79.5},{"s":"I-Ipy","t":21,"i":80},{"s":"I-Ipy","t":21.5,"i":78.5},{"s":"I-Ipy","t":21.93,"i":78.5},{"s":"I-Ipy","t":22.02,"i":87},{"s":"I-Ipy","t":22.1,"i":106},{"s":"I-Ipy","t":22.16,"i":87},{"s":"I-Ipy","t":22.28,"i":78.5},{"s":"I-Ipy","t":22.6,"i":78},{"s":"I-Ipy","t":23.08,"i":77},{"s":"I-Ipy","t":23.2,"i":80.5},{"s":"I-Ipy","t":23.32,"i":77},{"s":"I-Ipy","t":23.6,"i":77.5},{"s":"I-Ipy","t":24,"i":76.5},{"s":"I-Ipy","t":24.6,"i":76.5},{"s":"I-Ipy","t":24.68,"i":83},{"s":"I-Ipy","t":24.74,"i":95},{"s":"I-Ipy","t":24.8,"i":83},{"s":"I-Ipy","t":24.92,"i":78},{"s":"I-Ipy","t":25.22,"i":77},{"s":"I-Ipy","t":25.36,"i":81.5},{"s":"I-Ipy","t":25.5,"i":76.5},{"s":"I-Ipy","t":25.8,"i":76.5},{"s":"I-Ipy","t":26.5,"i":75},{"s":"I-Ipy","t":27,"i":76},{"s":"I-Ipy","t":27.5,"i":75},{"s":"I-Ipy","t":28,"i":75.5},{"s":"I-Ipy","t":28.44,"i":75.5},{"s":"I-Ipy","t":28.52,"i":80},{"s":"I-Ipy","t":28.58,"i":88},{"s":"I-Ipy","t":28.64,"i":80},{"s":"I-Ipy","t":28.75,"i":75.5},{"s":"I-Ipy","t":29.33,"i":74.5},{"s":"I-Ipy","t":29.46,"i":78},{"s":"I-Ipy","t":29.59,"i":74.5},{"s":"I-Ipy","t":30,"i":74.5},{"s":"I-Ipy","t":30.5,"i":73.5},{"s":"I-Ipy","t":31,"i":74},{"s":"I-Ipy","t":31.28,"i":74},{"s":"I-Ipy","t":31.4,"i":76},{"s":"I-Ipy","t":31.52,"i":73.5},{"s":"I-Ipy","t":32,"i":73.5},{"s":"I-Ipy","t":32.56,"i":73},{"s":"I-Ipy","t":32.68,"i":75},{"s":"I-Ipy","t":32.8,"i":73},{"s":"I-Ipy","t":33.5,"i":73},{"s":"I-Ipy","t":33.95,"i":72.5},{"s":"I-Ipy","t":34.07,"i":75.5},{"s":"I-Ipy","t":34.19,"i":72.5},{"s":"I-Ipy","t":34.5,"i":72.5},{"s":"I-Ipy","t":35,"i":71.5},{"s":"I-Ipy","t":35.5,"i":72},{"s":"I-Ipy","t":36,"i":71},{"s":"I-Ipy","t":36.5,"i":71.5},{"s":"I-Ipy","t":37.08,"i":70.5},{"s":"I-Ipy","t":37.23,"i":79},{"s":"I-Ipy","t":37.38,"i":72},{"s":"I-Ipy","t":37.5,"i":73},{"s":"I-Ipy","t":37.6,"i":74},{"s":"I-Ipy","t":37.73,"i":78},{"s":"I-Ipy","t":37.88,"i":70.5},{"s":"I-Ipy","t":38.3,"i":70},{"s":"I-Ipy","t":38.8,"i":70.5},{"s":"I-Ipy","t":39.3,"i":69.5},{"s":"I-Ipy","t":40,"i":69}
]
},
"layer": [
{
"data": {"name": "xrd"},
"mark": {"type": "line", "strokeWidth": 1.5},
"encoding": {
"x": {"field": "t", "type": "quantitative",
 "scale": {"domain": [4, 40], "nice": false, "zero": false},
 "axis": {"values": [5, 7.5, 10, 12.5, 15, 17.5, 20, 22.5, 25, 27.5, 30, 32.5, 35, 37.5],
  "labelExpr": "datum.value % 5 === 0 ? datum.label : ''",
  "tickSize": {"condition": {"test": "datum.value % 5 === 0", "value": 7}, "value": 4},
  "tickWidth": 1.5, "tickColor": "#222222",
  "domainColor": "#222222", "domainWidth": 2,
  "labelFont": "Liberation Sans", "labelFontSize": 14, "labelColor": "#222222", "labelPadding": 6,
  "title": "2Theta (°)", "titleFont": "Liberation Sans", "titleFontSize": 15, "titleFontWeight": "normal",
  "titleColor": "#222222", "titleAnchor": "end", "titleAlign": "right", "titleX": 546, "titleY": 40, "titleBaseline": "bottom",
  "grid": false}},
"y": {"field": "i", "type": "quantitative",
 "scale": {"domain": [0, 677], "nice": false, "zero": false},
 "axis": {"title": null, "labels": false, "ticks": false, "domainColor": "#222222", "domainWidth": 2, "grid": false}},
"color": {"field": "s", "type": "nominal",
 "scale": {"domain": ["Cl-Clpy","Br-Clpy","I-Clpy","Cl-Brpy","Br-Brpy","I-Brpy","Cl-Ipy","Br-Ipy","I-Ipy"],
  "range": ["#8DC63F","#FFC000","#B4A0D2","#229A5B","#F89A2C","#8E2063","#0E7C3B","#F36B2D","#6C2177"]},
 "legend": null}
}
},
{
"data": {"name": "labels"},
"mark": {"type": "text", "align": "left", "baseline": "middle", "font": "Lato", "fontSize": 16},
"encoding": {
"x": {"field": "t", "type": "quantitative"},
"y": {"field": "i", "type": "quantitative"},
"text": {"field": "label"},
"color": {"field": "s", "type": "nominal", "legend": null}
}
}
]
}
